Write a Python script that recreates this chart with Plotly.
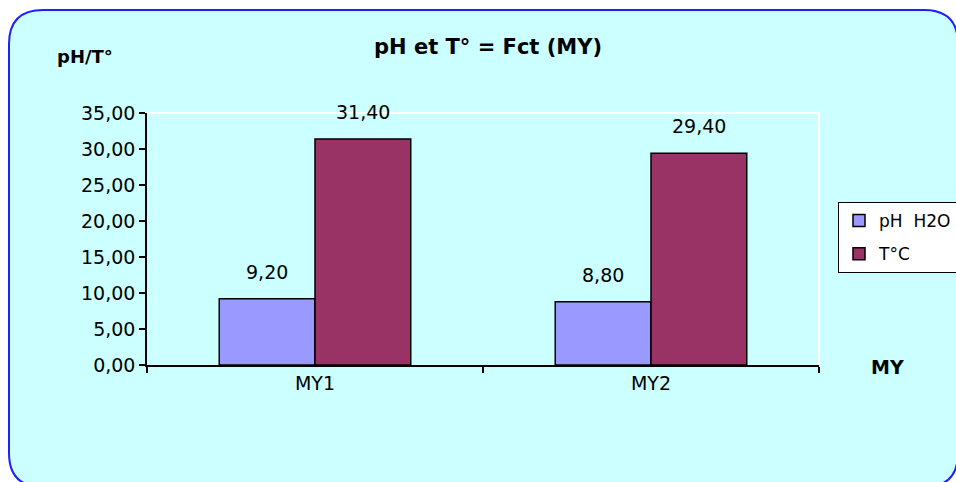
import plotly.graph_objects as go

# Sample sites and measured values
sites = ["MY1", "MY2"]
ph_h2o = [9.20, 8.80]
temp_c = [31.40, 29.40]
series_names = ["pH\u00a0 H2O", "T°C"]
y_ticks = [0, 5, 10, 15, 20, 25, 30, 35]

W, H = 956, 482
L, R, T, B = 147, 819, 113, 365  # plot-area pixel box


def px(x):
    return (x - L) / (R - L)


def py(y):
    return (B - y) / (B - T)


font = "DejaVu Sans, Arial, sans-serif"
FS = 19

fig = go.Figure()
fig.add_trace(go.Bar(x=sites, y=ph_h2o, name=series_names[0], legendgroup="ph",
                     marker=dict(color="#9999FF", line=dict(color="black", width=1.5))))
fig.add_trace(go.Bar(x=sites, y=temp_c, name=series_names[1], legendgroup="t",
                     marker=dict(color="#993366", line=dict(color="black", width=1.5))))

# value labels above each bar
annotations = []
for i, s in enumerate(sites):
    for off, vals in ((-0.143, ph_h2o), (0.143, temp_c)):
        annotations.append(dict(
            x=i + off, y=vals[i], xref="x", yref="y",
            text=f"{vals[i]:.2f}".replace(".", ","),
            showarrow=False, xanchor="center", yanchor="middle", yshift=27,
            font=dict(family=font, size=FS, color="black")))

annotations += [
    dict(x=px(488), y=py(47), xref="paper", yref="paper", text="<b>pH et T° = Fct (MY)</b>",
         showarrow=False, xanchor="center", yanchor="middle",
         font=dict(family=font, size=21, color="black")),
    dict(x=px(85), y=py(57), xref="paper", yref="paper", text="<b>pH/T°</b>",
         showarrow=False, xanchor="center", yanchor="middle",
         font=dict(family=font, size=18, color="black")),
    dict(x=px(887), y=py(367), xref="paper", yref="paper", text="<b>MY</b>",
         showarrow=False, xanchor="center", yanchor="middle",
         font=dict(family=font, size=19, color="black")),
]


def rounded_rect(x0, y0, x1, y1, r):
    # path in paper coordinates from pixel corners
    ax, ay = px(x0), py(y0)
    bx, by = px(x1), py(y1)
    rx, ry = r / (R - L), r / (B - T)
    return (f"M {ax+rx},{ay} L {bx-rx},{ay} Q {bx},{ay} {bx},{ay-ry} "
            f"L {bx},{by+ry} Q {bx},{by} {bx-rx},{by} "
            f"L {ax+rx},{by} Q {ax},{by} {ax},{by+ry} "
            f"L {ax},{ay-ry} Q {ax},{ay} {ax+rx},{ay} Z")


shapes = [
    dict(type="path", xref="paper", yref="paper", layer="below",
         path=rounded_rect(9, 10, 958, 487, 34),
         fillcolor="#CCFFFF", line=dict(color="#2020FF", width=2)),
    # white frame on top and right of the plot area
    dict(type="line", xref="paper", yref="paper", x0=0, x1=1, y0=1, y1=1,
         line=dict(color="white", width=2), layer="below"),
    dict(type="line", xref="paper", yref="paper", x0=1, x1=1, y0=0, y1=1,
         line=dict(color="white", width=2), layer="below"),
]

fig.update_layout(
    width=W, height=H,
    margin=dict(l=L, r=W - R, t=T, b=H - B, pad=0, autoexpand=False),
    paper_bgcolor="white",
    plot_bgcolor="rgba(0,0,0,0)",
    separators=", ",
    barmode="group",
    bargap=0.43,
    bargroupgap=0,
    showlegend=True,
    legend=dict(x=px(838), y=py(202), xanchor="left", yanchor="top",
                bgcolor="white", bordercolor="black", borderwidth=1,
                font=dict(family=font, size=17, color="black"),
                traceorder="grouped", tracegroupgap=8, itemwidth=30),
    font=dict(family=font, size=FS, color="black"),
    annotations=annotations,
    shapes=shapes,
    xaxis=dict(showline=True, linecolor="black", linewidth=1.5,
               ticks="outside", ticklen=6, tickcolor="black", tickwidth=1.5,
               tickson="boundaries", showgrid=False, zeroline=False,
               tickfont=dict(family=font, size=FS, color="black")),
    yaxis=dict(range=[0, 35], tickvals=y_ticks, tickformat=".2f",
               showline=True, linecolor="black", linewidth=1.5,
               ticks="outside", ticklen=6, tickcolor="black", tickwidth=1.5,
               showgrid=False, zeroline=False,
               tickfont=dict(family=font, size=FS, color="black")),
)

fig.write_html("out.html")
